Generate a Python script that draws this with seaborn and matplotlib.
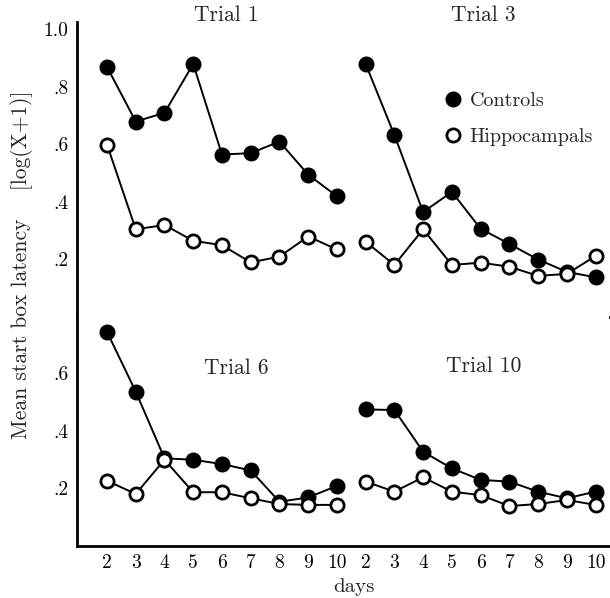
import numpy as np
import pandas as pd
import matplotlib
matplotlib.use("Agg")
import matplotlib.pyplot as plt
import seaborn as sns
from matplotlib.lines import Line2D

days = [2, 3, 4, 5, 6, 7, 8, 9, 10]

trial1_controls = [0.87, 0.68, 0.71, 0.88, 0.565, 0.57, 0.61, 0.495, 0.42]
trial1_hippocampals = [0.60, 0.305, 0.32, 0.265, 0.25, 0.19, 0.21, 0.28, 0.235]
trial3_controls = [0.88, 0.633, 0.365, 0.435, 0.307, 0.254, 0.20, 0.157, 0.138]
trial3_hippocampals = [0.262, 0.181, 0.305, 0.181, 0.189, 0.175, 0.143, 0.150, 0.212]
trial6_controls = [0.745, 0.537, 0.305, 0.30, 0.285, 0.263, 0.154, 0.169, 0.209]
trial6_hippocampals = [0.227, 0.181, 0.30, 0.187, 0.187, 0.166, 0.146, 0.143, 0.143]
trial10_controls = [0.475, 0.473, 0.328, 0.27, 0.23, 0.224, 0.189, 0.166, 0.189]
trial10_hippocampals = [0.224, 0.189, 0.239, 0.189, 0.177, 0.139, 0.146, 0.160, 0.143]

trial_names = ["Trial 1", "Trial 3", "Trial 6", "Trial 10"]
groups = ["Controls", "Hippocampals"]

series = {
    ("Trial 1", "Controls"): trial1_controls,
    ("Trial 1", "Hippocampals"): trial1_hippocampals,
    ("Trial 3", "Controls"): trial3_controls,
    ("Trial 3", "Hippocampals"): trial3_hippocampals,
    ("Trial 6", "Controls"): trial6_controls,
    ("Trial 6", "Hippocampals"): trial6_hippocampals,
    ("Trial 10", "Controls"): trial10_controls,
    ("Trial 10", "Hippocampals"): trial10_hippocampals,
}
panel_row = {"Trial 1": 0, "Trial 3": 0, "Trial 6": 1, "Trial 10": 1}
panel_col = {"Trial 1": 0, "Trial 3": 1, "Trial 6": 0, "Trial 10": 1}

rows = []
for (trial, group), vals in series.items():
    for i, (d, v) in enumerate(zip(days, vals)):
        rows.append(dict(trial=trial, group=group, day=d, value=v,
                         row=panel_row[trial],
                         xpos=panel_col[trial] * len(days) + i))
df = pd.DataFrame(rows)

sns.set_style("white")
plt.rcParams["font.family"] = ["cmr10", "DejaVu Serif"]
plt.rcParams["axes.formatter.use_mathtext"] = True
plt.rcParams["mathtext.fontset"] = "cm"

W, H = 610, 598
fig = plt.figure(figsize=(W / 100, H / 100), dpi=100)

def fx(px):
    return px / W

def fy(py):
    return 1 - py / H

scale = 287.5  # px per unit
left_px, right_px = 77, 609
ax_top = fig.add_axes([fx(left_px), fy(317), fx(right_px - left_px), 1.025 * scale / H])
ax_bot = fig.add_axes([fx(left_px), fy(546), fx(right_px - left_px), 0.8 * scale / H])

x0_px, dx_px = 107, 28.74
xlim = ((left_px - x0_px) / dx_px, (right_px - x0_px) / dx_px)

styles = {
    "Controls": dict(markerfacecolor="black", zorder=3),
    "Hippocampals": dict(markerfacecolor="white", zorder=4),
}

for r, ax in enumerate([ax_top, ax_bot]):
    sub_r = df[df.row == r]
    for g in groups:
        sub = sub_r[sub_r.group == g]
        sns.lineplot(data=sub, x="xpos", y="value", units="trial", estimator=None,
                     sort=False, ax=ax, color="black", linewidth=1.4,
                     marker="o", markersize=9.5, markeredgecolor="black",
                     markeredgewidth=2.0, legend=False, **styles[g])
    ax.set_xlim(*xlim)
    ax.set_xlabel("")
    ax.set_ylabel("")
    for s in ["top", "right"]:
        ax.spines[s].set_visible(False)
    for s in ["left", "bottom"]:
        ax.spines[s].set_linewidth(2.0)
        ax.spines[s].set_color("black")
    ax.set_xticks(range(2 * len(days)))
    ax.tick_params(axis="both", direction="in", length=4, width=1.4, pad=6,
                   labelsize=14, colors="black")

ax_top.set_ylim(0, 1.025)
ax_top.set_yticks([0.0, 0.2, 0.4, 0.6, 0.8, 1.0])
ax_top.set_yticklabels(["", ".2", ".4", ".6", ".8", "1.0"])
ax_top.set_xticklabels([])

ax_bot.set_ylim(0, 0.8)
ax_bot.set_yticks([0.2, 0.4, 0.6])
ax_bot.set_yticklabels([".2", ".4", ".6"])
ax_bot.set_xticklabels([str(d) for d in days] * 2)

title_pos = {"Trial 1": (226, 15), "Trial 3": (483, 15),
             "Trial 6": (236, 368), "Trial 10": (484, 366)}
for t in trial_names:
    px, py = title_pos[t]
    fig.text(fx(px), fy(py), t, ha="center", va="center", fontsize=15.5)

fig.text(fx(22), fy(265), "Mean start box latency    [log(X+1)]",
         rotation=90, ha="center", va="center", fontsize=15.5)
fig.text(fx(354), fy(587), "days", ha="center", va="center", fontsize=15)

handles = [
    Line2D([], [], linestyle="none", marker="o", markersize=9.5,
           markerfacecolor="black", markeredgecolor="black", markeredgewidth=2.0),
    Line2D([], [], linestyle="none", marker="o", markersize=9.5,
           markerfacecolor="white", markeredgecolor="black", markeredgewidth=2.0),
]
leg = fig.legend(handles, groups, loc="center left",
                 bbox_to_anchor=(fx(444.5), fy(119)), frameon=False,
                 handlelength=0.8, handletextpad=0.45, labelspacing=0.85,
                 borderpad=0, borderaxespad=0, fontsize=14.5)

fig.savefig("out.png", dpi=100)
